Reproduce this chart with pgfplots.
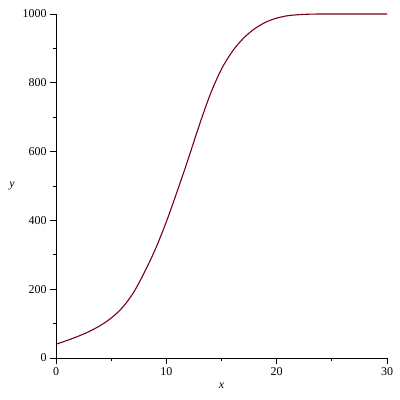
\documentclass[border=0pt]{standalone}
\usepackage{pgfplots}
\pgfplotsset{compat=1.18}
\usepackage{fontspec}
\setmainfont{Liberation Serif}
\definecolor{curve}{RGB}{120,0,20}
\begin{document}
\begin{tikzpicture}[x=1bp,y=1bp]
\path (0,0) rectangle (400,400);
\begin{axis}[
  at={(56bp,42bp)}, anchor=south west,
  scale only axis, width=331bp, height=344bp,
  xmin=0, xmax=30, ymin=0, ymax=1000,
  axis lines=left, axis line style={-, line width=0.9pt},
  xtick={0,10,20,30}, ytick={0,200,400,600,800,1000},
  minor xtick={5,15,25}, minor ytick={100,300,500,700,900},
  tick align=outside,
  major tick length=6bp, minor tick length=3bp,
  tick style={line width=0.9pt, black},
  /pgf/number format/assume math mode=true,
  /pgf/number format/1000 sep={},
  ticklabel style={font=\fontsize{12}{14}\selectfont},
  xlabel={\textit{x}}, ylabel={\textit{y}},
  label style={font=\fontsize{12}{14}\selectfont},
  xlabel style={at={(axis description cs:0.5,-0.081)}, anchor=center},
  ylabel style={at={(axis description cs:-0.133,0.5)}, anchor=center, rotate=-90},
  clip=false,
]
\addplot[curve, line width=1.1pt, smooth, tension=0.5] coordinates {
(0,40) (1,51) (2,63) (3,77) (4,94) (5,116) (6,146) (7,189) (8,248) (9,316)
(10,396) (11,486) (12,580) (13,678) (14,768) (15,840) (16,892) (17,930)
(18,957) (19,976) (20,988) (21,995) (22,998) (23,999.5) (24,1000)
(25,1000) (26,1000) (27,1000) (28,1000) (29,1000) (30,1000)
};
\end{axis}
\end{tikzpicture}
\end{document}
